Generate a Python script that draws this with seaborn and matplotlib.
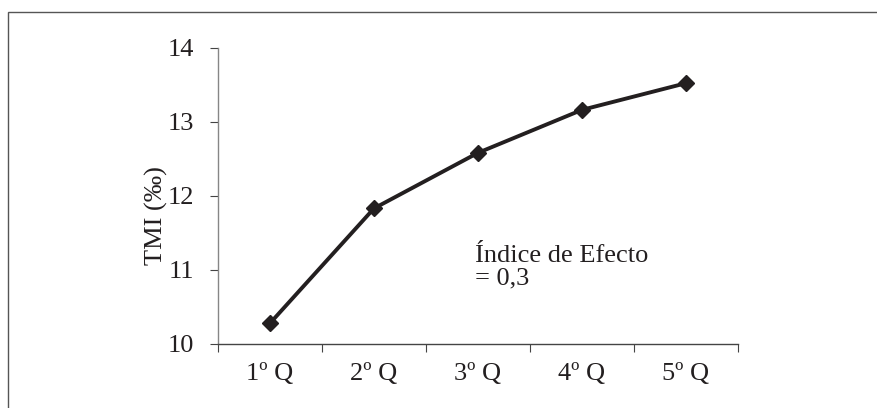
import matplotlib
matplotlib.use("Agg")
import matplotlib.pyplot as plt
import seaborn as sns
import pandas as pd
from matplotlib.patches import Rectangle
from matplotlib.ticker import FixedLocator

# values
quintiles = ["1º Q", "2º Q", "3º Q", "4º Q", "5º Q"]
tmi = [10.28, 11.83, 12.58, 13.16, 13.52]
y_ticks = [10, 11, 12, 13, 14]
note_line1 = "Índice de Efecto"
note_line2 = "= 0,3"

df = pd.DataFrame({"quintil": quintiles, "tmi": tmi})

sns.set_style("white")
plt.rcParams["font.family"] = ["Liberation Serif", "DejaVu Serif"]

ink = "#231f20"
fig = plt.figure(figsize=(8.77, 4.08), dpi=100)
ax = fig.add_axes([0.2486, 0.1569, 0.5926, 0.7262])

sns.lineplot(data=df, x="quintil", y="tmi", ax=ax, color=ink, linewidth=2.8,
             marker="D", markersize=8.5, markeredgecolor=ink, markeredgewidth=1,
             sort=False)

ax.set_xlim(-0.5, len(quintiles) - 0.5)
ax.set_ylim(y_ticks[0], y_ticks[-1])
ax.set_yticks(y_ticks)
ax.set_xticks(range(len(quintiles)))
ax.set_xticklabels(quintiles)
ax.xaxis.set_minor_locator(FixedLocator([i - 0.5 for i in range(len(quintiles) + 1)]))

for s in ["top", "right"]:
    ax.spines[s].set_visible(False)
ax.spines["left"].set_color("#868686")
ax.spines["bottom"].set_color("#444444")
ax.spines["left"].set_linewidth(1.0)
ax.spines["bottom"].set_linewidth(1.0)

ax.tick_params(axis="x", which="major", bottom=True, length=0, pad=14,
               labelsize=19, labelcolor=ink)
ax.tick_params(axis="x", which="minor", bottom=True, length=6, width=0.8,
               color="#444444", direction="out")
ax.tick_params(axis="y", which="major", left=True, length=5.5, width=0.8, color="#444444",
               direction="out", pad=12, labelsize=19, labelcolor=ink)

ax.set_xlabel("")
ax.set_ylabel("TMI (‰)", fontsize=19, color=ink)
ax.yaxis.set_label_coords(-0.097, 0.432)

ax.text(1.97, 11.11, note_line1, fontsize=19, color=ink, va="baseline", ha="left")
ax.text(1.97, 10.80, note_line2, fontsize=19, color=ink, va="baseline", ha="left")

# outer frame (only top and left edges are visible in the reference)
fig.patches.append(Rectangle((8 / 877, -0.2), 1.2, 1.2 - 11.7 / 408, transform=fig.transFigure,
                             fill=False, edgecolor="#555555", linewidth=1.0))

fig.savefig("out.png", dpi=100)
